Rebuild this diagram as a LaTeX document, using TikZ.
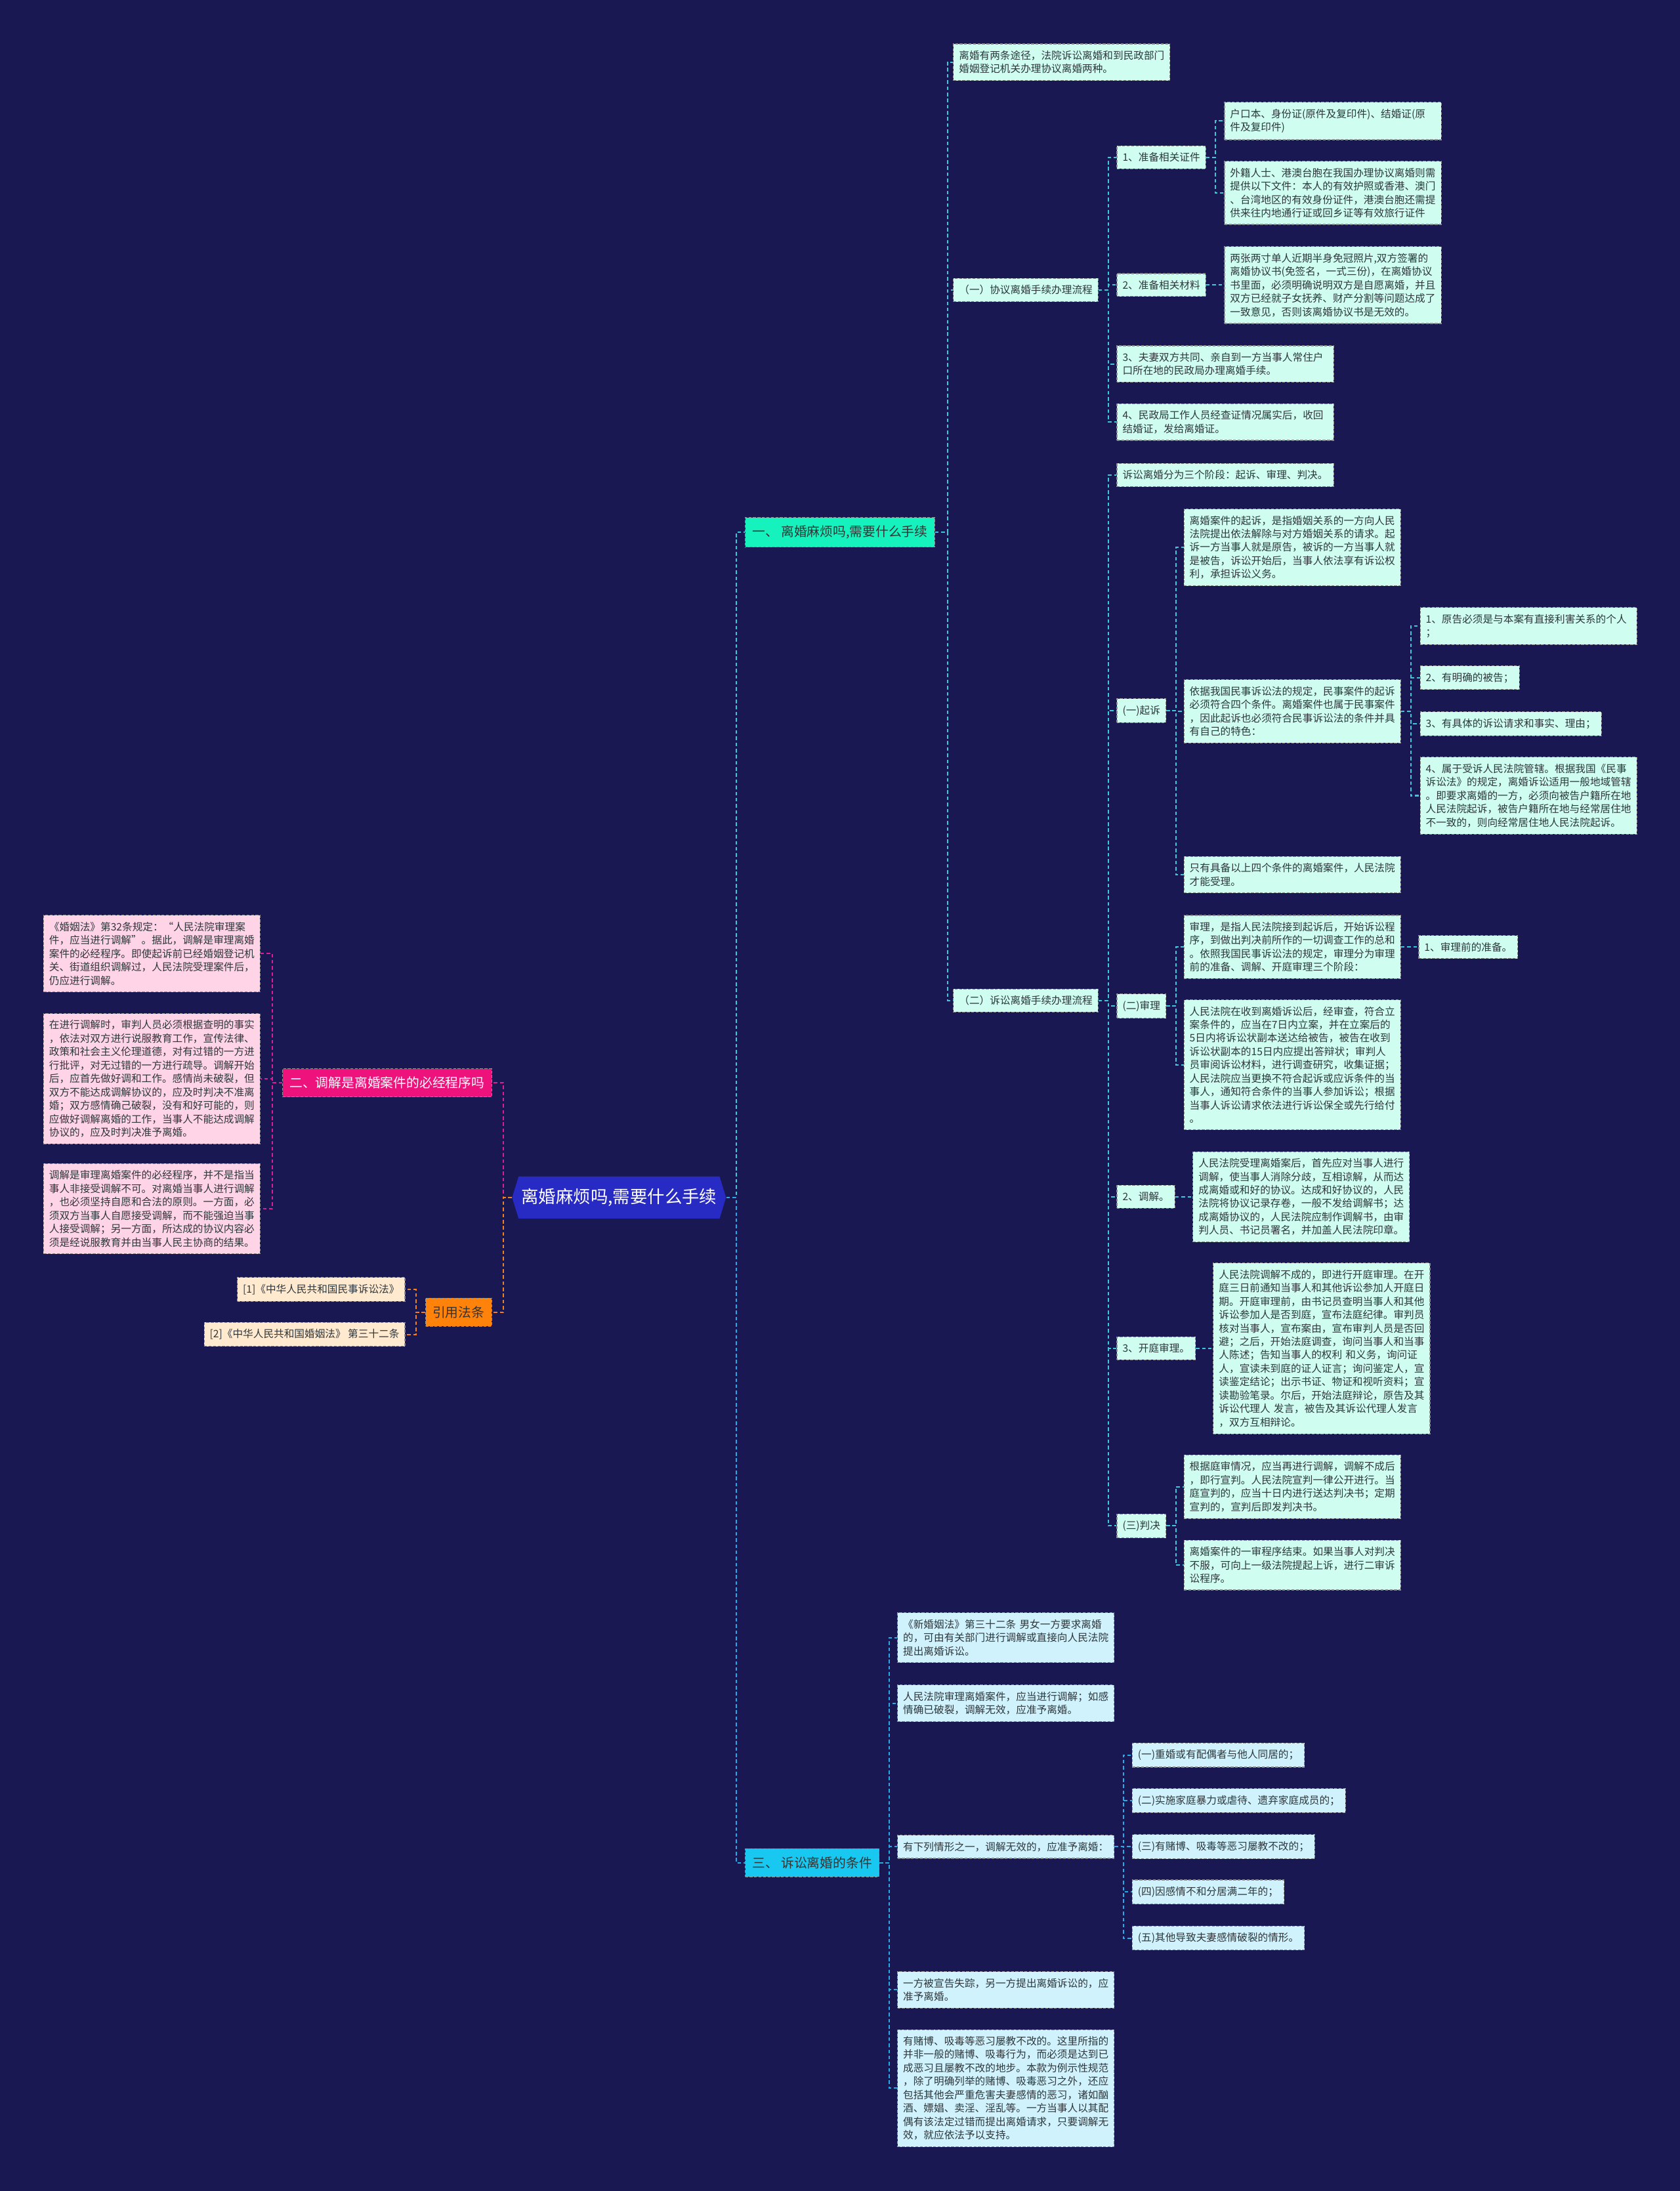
\documentclass[tikz,border=0pt]{standalone}
\usepackage{fontspec}
\setmainfont{Noto Sans CJK SC}
\usetikzlibrary{shapes.symbols}

\definecolor{bgnavy}{RGB}{26,24,82}
\definecolor{rootblue}{RGB}{40,42,196}
\definecolor{mintfill}{RGB}{207,253,240}
\definecolor{skyfill}{RGB}{208,242,252}
\definecolor{pinkfill}{RGB}{255,212,230}
\definecolor{creamfill}{RGB}{255,234,208}
\definecolor{topmint}{RGB}{22,242,190}
\definecolor{topsky}{RGB}{25,200,240}
\definecolor{toppink}{RGB}{238,18,124}
\definecolor{toporange}{RGB}{255,130,10}
\definecolor{cyanline}{RGB}{60,200,220}
\definecolor{skyline}{RGB}{40,170,230}
\definecolor{pinkline}{RGB}{220,30,150}
\definecolor{orangeline}{RGB}{240,130,30}
\definecolor{leaftext}{RGB}{45,55,60}

\begin{document}
\begin{tikzpicture}[x=1pt,y=-1pt,
  box/.style={draw=black!45,dash pattern=on 2pt off 1.2pt,line width=.5pt,
    inner xsep=4pt,inner ysep=4.8pt,align=left,text=leaftext,
    font=\fontsize{7.35}{9.6}\selectfont},
  mint/.style={box,fill=mintfill},
  sky/.style={box,fill=skyfill},
  pink/.style={box,fill=pinkfill},
  cream/.style={box,fill=creamfill},
  wide/.style={text width=147pt},
  head/.style={box,inner xsep=5pt,inner ysep=5.8pt,font=\fontsize{9.3}{11}\selectfont},
  lineA/.style={draw=cyanline,line width=1pt,dash pattern=on 2.6pt off 1.8pt},
  lineB/.style={lineA,draw=pinkline},
  lineC/.style={lineA,draw=skyline},
  lineD/.style={lineA,draw=orangeline}]

\fill[bgnavy] (0,0) rectangle (1202,1568);
\useasboundingbox (0,0) rectangle (1202,1568);

% root and main branches
\node[shape=signal,signal to=west and east,signal pointer angle=146,fill=rootblue,
  text=white,inner xsep=2pt,inner ysep=8.6pt,font=\fontsize{12.4}{14}\selectfont]
  (root) at (443,857) {离婚麻烦吗,需要什么手续};
\node[head,fill=topmint,text=black!80,anchor=west] (top1) at (533,381) {一、 离婚麻烦吗,需要什么手续};
\node[head,fill=topsky,text=black!80,anchor=west] (top3) at (533,1333) {三、 诉讼离婚的条件};
\node[head,fill=toppink,text=white,anchor=east] (top2) at (352,775) {二、调解是离婚案件的必经程序吗};
\node[head,fill=toporange,text=black!80,anchor=east] (top4) at (352,939) {引用法条};

\draw[lineA] (root.east) -- ++(7,0) |- (top1.west);
\draw[lineC] (root.east) -- ++(7,0) |- (top3.west);
\draw[lineB] (root.west) -- ++(-6,0) |- (top2.east);
\draw[lineD] (root.west) -- ++(-6,0) |- (top4.east);

% branch one
\node[mint,wide,anchor=west] (a1) at (682,44.5) {离婚有两条途径，法院诉讼离婚和到民政部门\\婚姻登记机关办理协议离婚两种。};
\node[mint,anchor=west] (a2) at (682,207.5) {（一）协议离婚手续办理流程};
\node[mint,anchor=west] (a3) at (682,716) {（二）诉讼离婚手续办理流程};
\foreach \n in {a1,a2,a3} \draw[lineA] (top1.east) -- ++(9,0) |- (\n.west);

\node[mint,anchor=west] (b1) at (799,112.6) {1、准备相关证件};
\node[mint,anchor=west] (b2) at (799,204) {2、准备相关材料};
\node[mint,wide,anchor=west] (b3) at (799,260.5) {3、夫妻双方共同、亲自到一方当事人常住户\\口所在地的民政局办理离婚手续。};
\node[mint,wide,anchor=west] (b4) at (799,302) {4、民政局工作人员经查证情况属实后，收回\\结婚证，发给离婚证。};
\foreach \n in {b1,b2,b3,b4} \draw[lineA] (a2.east) -- ++(7,0) |- (\n.west);

\node[mint,wide,anchor=west] (c1) at (876,86.6) {户口本、身份证(原件及复印件)、结婚证(原\\件及复印件)};
\node[mint,wide,anchor=west] (c2) at (876,138) {外籍人士、港澳台胞在我国办理协议离婚则需\\提供以下文件：本人的有效护照或香港、澳门\\、台湾地区的有效身份证件，港澳台胞还需提\\供来往内地通行证或回乡证等有效旅行证件};
\node[mint,wide,anchor=west] (c3) at (876,204) {两张两寸单人近期半身免冠照片,双方签署的\\离婚协议书(免签名，一式三份)，在离婚协议\\书里面，必须明确说明双方是自愿离婚，并且\\双方已经就子女抚养、财产分割等问题达成了\\一致意见，否则该离婚协议书是无效的。};
\foreach \n in {c1,c2} \draw[lineA] (b1.east) -- ++(6.5,0) |- (\n.west);
\draw[lineA] (b2.east) -- (c3.west);

\node[mint,anchor=west] (d0) at (799,340) {诉讼离婚分为三个阶段：起诉、审理、判决。};
\node[mint,anchor=west] (d1) at (799,508.6) {(一)起诉};
\node[mint,anchor=west] (d2) at (799,720) {(二)审理};
\node[mint,anchor=west] (d3) at (799,856.5) {2、调解。};
\node[mint,anchor=west] (d4) at (799,965) {3、开庭审理。};
\node[mint,anchor=west] (d5) at (799,1092) {(三)判决};
\foreach \n in {d0,d1,d2,d3,d4,d5} \draw[lineA] (a3.east) -- ++(7,0) |- (\n.west);

\node[mint,wide,anchor=west] (e1) at (847,391.7) {离婚案件的起诉，是指婚姻关系的一方向人民\\法院提出依法解除与对方婚姻关系的请求。起\\诉一方当事人就是原告，被诉的一方当事人就\\是被告，诉讼开始后，当事人依法享有诉讼权\\利，承担诉讼义务。};
\node[mint,wide,anchor=west] (e2) at (847,509) {依据我国民事诉讼法的规定，民事案件的起诉\\必须符合四个条件。离婚案件也属于民事案件\\，因此起诉也必须符合民事诉讼法的条件并具\\有自己的特色：};
\node[mint,wide,anchor=west] (e3) at (847,626) {只有具备以上四个条件的离婚案件，人民法院\\才能受理。};
\foreach \n in {e1,e2,e3} \draw[lineA] (d1.east) -- ++(7,0) |- (\n.west);

\node[mint,wide,anchor=west] (f1) at (1016,448) {1、原告必须是与本案有直接利害关系的个人\\；};
\node[mint,anchor=west] (f2) at (1016,485) {2、有明确的被告；};
\node[mint,anchor=west] (f3) at (1016,518) {3、有具体的诉讼请求和事实、理由；};
\node[mint,wide,anchor=west] (f4) at (1016,569.4) {4、属于受诉人民法院管辖。根据我国《民事\\诉讼法》的规定，离婚诉讼适用一般地域管辖\\。即要求离婚的一方，必须向被告户籍所在地\\人民法院起诉，被告户籍所在地与经常居住地\\不一致的，则向经常居住地人民法院起诉。};
\foreach \n in {f1,f2,f3,f4} \draw[lineA] (e2.east) -- ++(7,0) |- (\n.west);

\node[mint,wide,anchor=west] (g1) at (847,677.7) {审理，是指人民法院接到起诉后，开始诉讼程\\序，到做出判决前所作的一切调查工作的总和\\。依照我国民事诉讼法的规定，审理分为审理\\前的准备、调解、开庭审理三个阶段：};
\node[mint,wide,anchor=west] (g2) at (847,762) {人民法院在收到离婚诉讼后，经审查，符合立\\案条件的，应当在7日内立案，并在立案后的\\5日内将诉讼状副本送达给被告，被告在收到\\诉讼状副本的15日内应提出答辩状；审判人\\员审阅诉讼材料，进行调查研究，收集证据；\\人民法院应当更换不符合起诉或应诉条件的当\\事人，通知符合条件的当事人参加诉讼；根据\\当事人诉讼请求依法进行诉讼保全或先行给付\\。};
\foreach \n in {g1,g2} \draw[lineA] (d2.east) -- ++(7,0) |- (\n.west);
\node[mint,anchor=west] (h1) at (1015,677.7) {1、审理前的准备。};
\draw[lineA] (g1.east) -- (h1.west);

\node[mint,wide,anchor=west] (g3) at (853.4,856.5) {人民法院受理离婚案后，首先应对当事人进行\\调解，使当事人消除分歧，互相谅解，从而达\\成离婚或和好的协议。达成和好协议的，人民\\法院将协议记录存卷，一般不发给调解书；达\\成离婚协议的，人民法院应制作调解书，由审\\判人员、书记员署名，并加盖人民法院印章。};
\draw[lineA] (d3.east) -- (g3.west);

\node[mint,wide,anchor=west] (g4) at (868,965) {人民法院调解不成的，即进行开庭审理。在开\\庭三日前通知当事人和其他诉讼参加人开庭日\\期。开庭审理前，由书记员查明当事人和其他\\诉讼参加人是否到庭，宣布法庭纪律。审判员\\核对当事人，宣布案由，宣布审判人员是否回\\避；之后，开始法庭调查，询问当事人和当事\\人陈述；告知当事人的权利 和义务，询问证\\人，宣读未到庭的证人证言；询问鉴定人，宣\\读鉴定结论；出示书证、物证和视听资料；宣\\读勘验笔录。尔后，开始法庭辩论，原告及其\\诉讼代理人 发言，被告及其诉讼代理人发言\\，双方互相辩论。};
\draw[lineA] (d4.east) -- (g4.west);

\node[mint,wide,anchor=west] (g5) at (847,1064) {根据庭审情况，应当再进行调解，调解不成后\\，即行宣判。人民法院宣判一律公开进行。当\\庭宣判的，应当十日内进行送达判决书；定期\\宣判的，宣判后即发判决书。};
\node[mint,wide,anchor=west] (g6) at (847,1120) {离婚案件的一审程序结束。如果当事人对判决\\不服，可向上一级法院提起上诉，进行二审诉\\讼程序。};
\foreach \n in {g5,g6} \draw[lineA] (d5.east) -- ++(7,0) |- (\n.west);

% branch three
\node[sky,wide,anchor=west] (k1) at (642,1172) {《新婚姻法》第三十二条 男女一方要求离婚\\的，可由有关部门进行调解或直接向人民法院\\提出离婚诉讼。};
\node[sky,wide,anchor=west] (k2) at (642,1219) {人民法院审理离婚案件，应当进行调解；如感\\情确已破裂，调解无效，应准予离婚。};
\node[sky,anchor=west] (k3) at (642,1321.6) {有下列情形之一，调解无效的，应准予离婚：};
\node[sky,wide,anchor=west] (k4) at (642,1424) {一方被宣告失踪，另一方提出离婚诉讼的，应\\准予离婚。};
\node[sky,wide,anchor=west] (k5) at (642,1494.4) {有赌博、吸毒等恶习屡教不改的。这里所指的\\并非一般的赌博、吸毒行为，而必须是达到已\\成恶习且屡教不改的地步。本款为例示性规范\\，除了明确列举的赌博、吸毒恶习之外，还应\\包括其他会严重危害夫妻感情的恶习，诸如酗\\酒、嫖娼、卖淫、淫乱等。一方当事人以其配\\偶有该法定过错而提出离婚请求，只要调解无\\效，就应依法予以支持。};
\foreach \n in {k1,k2,k3,k4,k5} \draw[lineC] (top3.east) -- ++(7,0) |- (\n.west);

\node[sky,anchor=west] (l1) at (810,1256) {(一)重婚或有配偶者与他人同居的；};
\node[sky,anchor=west] (l2) at (810,1288.6) {(二)实施家庭暴力或虐待、遗弃家庭成员的；};
\node[sky,anchor=west] (l3) at (810,1321.6) {(三)有赌博、吸毒等恶习屡教不改的；};
\node[sky,anchor=west] (l4) at (810,1354) {(四)因感情不和分居满二年的；};
\node[sky,anchor=west] (l5) at (810,1387) {(五)其他导致夫妻感情破裂的情形。};
\foreach \n in {l1,l2,l3,l4,l5} \draw[lineC] (k3.east) -- ++(6.4,0) |- (\n.west);

% branch two
\node[pink,wide,anchor=east] (p1) at (186.4,682.5) {《婚姻法》第32条规定：“人民法院审理案\\件，应当进行调解”。据此，调解是审理离婚\\案件的必经程序。即使起诉前已经婚姻登记机\\关、街道组织调解过，人民法院受理案件后，\\仍应进行调解。};
\node[pink,wide,anchor=east] (p2) at (186.4,772) {在进行调解时，审判人员必须根据查明的事实\\，依法对双方进行说服教育工作，宣传法律、\\政策和社会主义伦理道德，对有过错的一方进\\行批评，对无过错的一方进行疏导。调解开始\\后，应首先做好调和工作。感情尚未破裂，但\\双方不能达成调解协议的，应及时判决不准离\\婚；双方感情确己破裂，没有和好可能的，则\\应做好调解离婚的工作，当事人不能达成调解\\协议的，应及时判决准予离婚。};
\node[pink,wide,anchor=east] (p3) at (186.4,865) {调解是审理离婚案件的必经程序，并不是指当\\事人非接受调解不可。对离婚当事人进行调解\\，也必须坚持自愿和合法的原则。一方面，必\\须双方当事人自愿接受调解，而不能强迫当事\\人接受调解；另一方面，所达成的协议内容必\\须是经说服教育并由当事人民主协商的结果。};
\foreach \n in {p1,p2,p3} \draw[lineB] (top2.west) -- ++(-7,0) |- (\n.east);

% cited laws
\node[cream,anchor=east] (r1) at (290,922.7) {[1]《中华人民共和国民事诉讼法》};
\node[cream,anchor=east] (r2) at (290,955) {[2]《中华人民共和国婚姻法》 第三十二条};
\foreach \n in {r1,r2} \draw[lineD] (top4.west) -- ++(-6.6,0) |- (\n.east);

\end{tikzpicture}
\end{document}
